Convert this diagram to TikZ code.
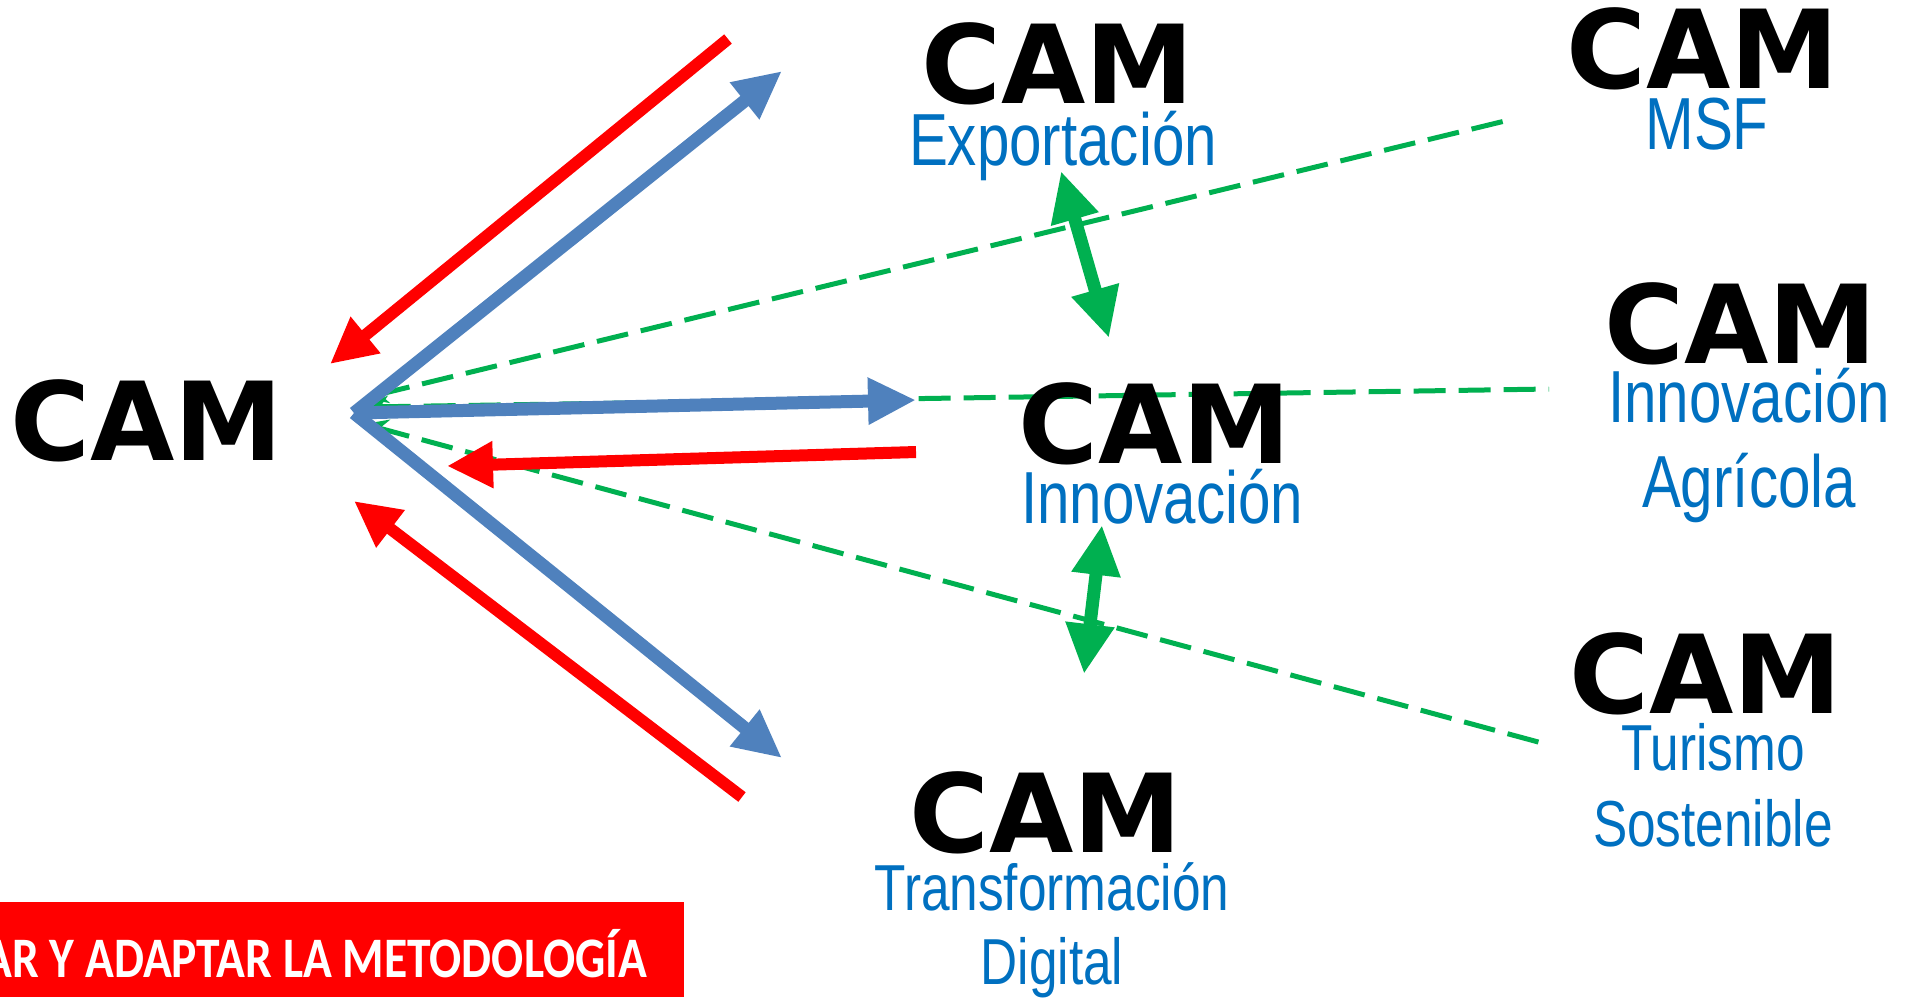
\documentclass[tikz,border=0pt]{standalone}
\usepackage{fontspec}
\setmainfont{Liberation Sans}
\newfontfamily\camfont{DejaVu Sans}
\newfontfamily\thinfont[FakeStretch=0.79]{Liberation Sans}
\newfontfamily\boxfont[FakeStretch=0.83]{Carlito}
\usetikzlibrary{arrows.meta}

\definecolor{camred}{RGB}{255,0,0}
\definecolor{camblue}{RGB}{79,129,189}
\definecolor{camgreen}{RGB}{0,176,80}
\definecolor{subblue}{RGB}{0,112,192}

\tikzset{
  cam/.style={font=\camfont\bfseries\fontsize{31}{31}\selectfont, inner sep=0pt},
  sub/.style={font=\thinfont\fontsize{21}{21}\selectfont, text=subblue, inner sep=0pt, anchor=base},
  smallsub/.style={sub, font=\thinfont\fontsize{18.5}{18.5}\selectfont},
  redarrow/.style={draw=camred, line width=1.2mm, -{Triangle[length=4.6mm,width=4.4mm]}},
  bluearrow/.style={draw=camblue, line width=1.3mm, -{Triangle[length=4.8mm,width=4.4mm]}},
  greenlink/.style={draw=camgreen, line width=0.5mm, dash pattern=on 3.2mm off 1.3mm,
    {Stealth[length=2.4mm,width=2.2mm]}-},
  greenarrow/.style={draw=camgreen, line width=1.3mm,
    {Triangle[length=5mm,width=4.6mm]}-{Triangle[length=5mm,width=4.6mm]}}
}

\begin{document}
\begin{tikzpicture}[x=0.1mm,y=-0.1mm]
    \useasboundingbox (0,0) rectangle (1916,997);
    \def\points{
      \coordinate (hub) at (354,413);
      % red and blue ends
      \coordinate (r1) at (728,39);   \coordinate (s1) at (330,364);
      \coordinate (r2) at (916,452);  \coordinate (s2) at (447,466);
      \coordinate (r3) at (742,797);  \coordinate (s3) at (354,501);
      \coordinate (b1) at (782,71);
      \coordinate (b2) at (916,400);
      \coordinate (b3) at (782,758);
      % green dashed ends
      \coordinate (g1) at (364,398);  \coordinate (h1) at (1509,120);
      \coordinate (g2) at (364,407);  \coordinate (h2) at (1549,389);
      \coordinate (g3) at (364,424);  \coordinate (h3) at (1542,743);
      % green double arrows
      \coordinate (u1) at (1061,171); \coordinate (v1) at (1109,338);
      \coordinate (u2) at (1102,525); \coordinate (v2) at (1084,674);
    }
    \def\showCams{
      \node [cam] (camL) at (147,421) {CAM};
      \node [cam] (camE) at (1058,64) {CAM};
      \node [cam] (camM) at (1703,49) {CAM};
      \node [cam] (camI) at (1155,424) {CAM};
      \node [cam] (camA) at (1741,324) {CAM};
      \node [cam] (camT) at (1706,674) {CAM};
      \node [cam] (camD) at (1046,813) {CAM};
    }
    \def\showSubs{
      \node [sub] (subE) at (1063,165) {Exportación};
      \node [sub] (subM) at (1707,149) {MSF};
      \node [sub] (subI) at (1162,523) {Innovación};
      \node [sub] (subA1) at (1749,422) {Innovación};
      \node [sub] (subA2) at (1749,507) {Agrícola};
      \node [smallsub] (subT1) at (1713,770) {Turismo};
      \node [smallsub] (subT2) at (1713,846) {Sostenible};
      \node [smallsub] (subD1) at (1052,910) {Transformación};
      \node [smallsub] (subD2) at (1052,984) {Digital};
    }
    \def\showArrows{
      % Draw dashed links
      \foreach \i in {1,2,3} {
        \draw [greenlink] (g\i) -- (h\i);
      }
      % Draw outgoing and returning arrows
      \foreach \i in {1,2,3} {
        \draw [bluearrow] (hub) -- (b\i);
        \draw [redarrow] (r\i) -- (s\i);
      }
      \draw [greenarrow] (u1) -- (v1);
      \draw [greenarrow] (u2) -- (v2);
    }
    \points
    \showArrows
    \showCams
    \showSubs
    % Draw banner
    \fill [camred] (0,902) rectangle (684,997);
    \node [anchor=base east, inner sep=0pt, text=white,
      font=\boxfont\bfseries\fontsize{16.3}{16.3}\selectfont] (banner) at (648,977)
      {AR Y ADAPTAR LA METODOLOGÍA};
  \end{tikzpicture}
\end{document}
